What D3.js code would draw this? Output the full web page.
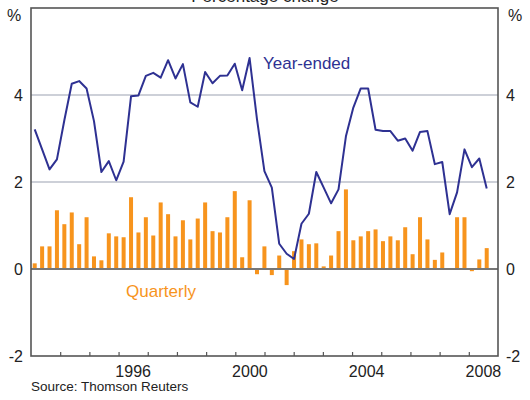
<!DOCTYPE html>
<meta charset="utf-8">
<style>
    body { margin: 0; background: #fff; }
    text { font-family: "Liberation Sans", Arial, sans-serif; fill: #222; }
    .grid { stroke: #bcc0cb; stroke-width: 1.3px; }
    .frame { fill: none; stroke: #555; stroke-width: 1.6px; }
    .zero { stroke: #777; stroke-width: 2px; }
    .bar { fill: #f7941d; }
    .line { fill: none; stroke: #2e3192; stroke-width: 2px; stroke-linejoin: round; }
</style>
<body>
<script src="https://d3js.org/d3.v7.min.js"></script>
<script>
    // quarterly CPI change, 1993 Q1 onwards
    var quarterly = [0.13, 0.52, 0.52, 1.35, 1.03, 1.30, 0.57, 1.19, 0.29, 0.20, 0.82, 0.75, 0.73, 1.65, 0.84, 1.19,
        0.77, 1.53, 1.26, 0.75, 1.12, 0.68, 1.16, 1.53, 0.87, 0.84, 1.19, 1.79, 0.27, 1.58, -0.12, 0.52,
        -0.14, 0.31, -0.37, 0.41, 0.68, 0.57, 0.59, 0.06, 0.31, 0.87, 1.83, 0.66, 0.75, 0.87, 0.91, 0.64,
        0.75, 0.66, 0.96, 0.34, 1.19, 0.68, 0.21, 0.38, 0.01, 1.19, 1.19, -0.05, 0.22, 0.48];

    var yearEnded = [3.21, 2.75, 2.29, 2.52, 3.42, 4.26, 4.32, 4.15, 3.40, 2.23, 2.48, 2.04, 2.47, 3.97, 3.99, 4.44,
        4.51, 4.40, 4.80, 4.38, 4.71, 3.83, 3.73, 4.53, 4.27, 4.44, 4.45, 4.72, 4.11, 4.85, 3.44, 2.25,
        1.87, 0.58, 0.35, 0.23, 1.04, 1.27, 2.23, 1.87, 1.51, 1.83, 3.05, 3.71, 4.15, 4.15, 3.20, 3.17,
        3.17, 2.95, 3.00, 2.72, 3.15, 3.17, 2.41, 2.46, 1.26, 1.76, 2.75, 2.34, 2.54, 1.85];

    var quarters = [];
    for (var yr = 1993; quarters.length < quarterly.length; yr++)
        for (var q = 1; q <= 4 && quarters.length < quarterly.length; q++) quarters.push(yr + " Q" + q);

    var yearLabels = [1996, 2000, 2004, 2008];
    var yTicks = [-2, 0, 2, 4];
    var gridVals = [2, 4];

    var width = 530, height = 400;
    var m = { left: 31, right: 498, top: 8, bottom: 356 };

    var svg = d3.select("body").append("svg")
        .attr("width", width)
        .attr("height", height);

    var xYear = d3.scaleLinear().domain([1993, 2009]).range([m.left, m.right]);
    var xQ = d3.scaleBand().domain(quarters).range([m.left, m.left + 62 * 7.41]).paddingInner(0.46).paddingOuter(0.23);
    var y = d3.scaleLinear().domain([-2, 6]).range([m.bottom, m.top]);

    // gridlines
    svg.selectAll(".grid").data(gridVals).enter().append("line")
        .attr("class", "grid")
        .attr("x1", m.left).attr("x2", m.right)
        .attr("y1", function(d) { return y(d); })
        .attr("y2", function(d) { return y(d); });

    // bars
    svg.selectAll(".bar").data(quarterly).enter().append("rect")
        .attr("class", "bar")
        .attr("x", function(d, i) { return xQ(quarters[i]); })
        .attr("width", xQ.bandwidth())
        .attr("y", function(d) { return y(Math.max(0, d)); })
        .attr("height", function(d) { return Math.abs(y(d) - y(0)); });

    svg.append("line").attr("class", "zero")
        .attr("x1", m.left).attr("x2", m.right)
        .attr("y1", y(0)).attr("y2", y(0));

    var line = d3.line()
        .x(function(d, i) { return xQ(quarters[i]) + xQ.bandwidth() / 2; })
        .y(function(d) { return y(d); });

    svg.append("path").datum(yearEnded)
        .attr("class", "line")
        .attr("d", line);

    // year ticks along bottom
    var xAxis = d3.axisBottom(xYear)
        .tickValues(d3.range(1994, 2009))
        .tickSize(-4)
        .tickFormat("");
    svg.append("g")
        .attr("transform", "translate(0," + m.bottom + ")")
        .call(xAxis)
        .call(function(g) {
            g.select(".domain").remove();
            g.selectAll("line").attr("stroke", "#555").attr("stroke-width", 1.2);
        });

    svg.append("rect").attr("class", "frame")
        .attr("x", m.left).attr("y", m.top)
        .attr("width", m.right - m.left).attr("height", m.bottom - m.top);

    svg.selectAll(".xlab").data(yearLabels).enter().append("text")
        .attr("class", "xlab")
        .attr("x", function(d) { return xYear(d + 0.5); })
        .attr("y", m.bottom + 21)
        .attr("text-anchor", "middle")
        .style("font-size", "16px")
        .text(function(d) { return d; });

    svg.selectAll(".ylabL").data(yTicks).enter().append("text")
        .attr("x", m.left - 8)
        .attr("y", function(d) { return y(d); })
        .attr("dy", "0.36em")
        .attr("text-anchor", "end")
        .style("font-size", "16px")
        .text(function(d) { return d; });

    svg.selectAll(".ylabR").data(yTicks).enter().append("text")
        .attr("x", m.right + 8)
        .attr("y", function(d) { return y(d); })
        .attr("dy", "0.36em")
        .attr("text-anchor", "start")
        .style("font-size", "16px")
        .text(function(d) { return d; });

    svg.append("text").attr("x", m.left - 17).attr("y", 21)
        .attr("text-anchor", "middle").style("font-size", "16px").text("%");
    svg.append("text").attr("x", m.right + 17).attr("y", 21)
        .attr("text-anchor", "middle").style("font-size", "16px").text("%");

    svg.append("text").attr("x", 265).attr("y", 2)
        .attr("text-anchor", "middle").style("font-size", "17px").text("Percentage change");

    svg.append("text").attr("x", 263).attr("y", 69)
        .style("font-size", "17px").style("fill", "#2e3192").text("Year-ended");

    svg.append("text").attr("x", 126).attr("y", 297)
        .style("font-size", "17px").style("fill", "#f7941d").text("Quarterly");

    svg.append("text").attr("x", 31).attr("y", 391)
        .style("font-size", "13.5px").text("Source: Thomson Reuters");
</script>
</body>
